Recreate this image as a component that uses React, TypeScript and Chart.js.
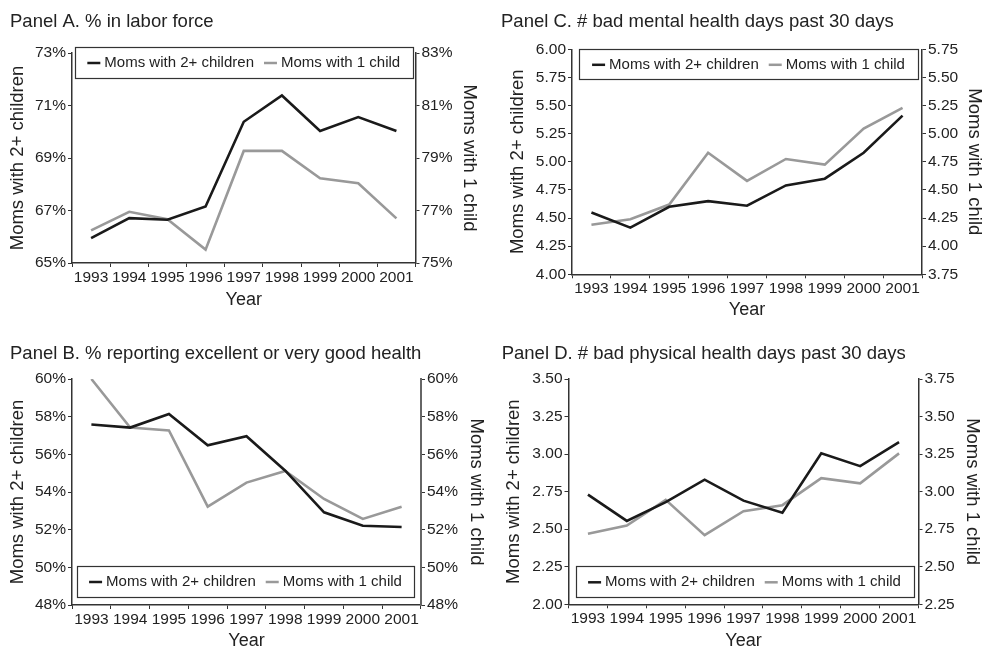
import React, { useEffect, useRef } from "react";
import { Chart, registerables } from "chart.js";

Chart.register(...registerables);

const FONT = '"Liberation Sans", Arial, Helvetica, sans-serif';

const years = ["1993", "1994", "1995", "1996", "1997", "1998", "1999", "2000", "2001"];
const seriesNames = ["Moms with 2+ children", "Moms with 1 child"];

// Panel A: % in labor force
const laborTwoPlus = [65.95, 66.71, 66.65, 67.15, 70.38, 71.38, 70.03, 70.56, 70.03];
const laborOne = [76.24, 76.95, 76.67, 75.51, 79.27, 79.27, 78.23, 78.04, 76.7];
const laborLeftRange = [65, 73];
const laborRightRange = [75, 83];

// Panel B: % reporting excellent or very good health
const healthTwoPlus = [57.58, 57.42, 58.14, 56.48, 56.96, 55.13, 52.92, 52.21, 52.14];
const healthOne = [60.0, 57.42, 57.27, 53.22, 54.5, 55.12, 53.63, 52.57, 53.22];
const healthLeftRange = [48, 60];
const healthRightRange = [48, 60];

// Panel C: # bad mental health days past 30 days
const mentalTwoPlus = [4.55, 4.415, 4.6, 4.65, 4.61, 4.79, 4.85, 5.08, 5.41];
const mentalOne = [4.19, 4.24, 4.37, 4.83, 4.58, 4.775, 4.725, 5.045, 5.23];
const mentalLeftRange = [4.0, 6.0];
const mentalRightRange = [3.75, 5.75];

// Panel D: # bad physical health days past 30 days
const physicalTwoPlus = [2.73, 2.555, 2.68, 2.83, 2.69, 2.61, 3.005, 2.92, 3.08];
const physicalOne = [2.72, 2.774, 2.945, 2.71, 2.87, 2.91, 3.09, 3.055, 3.255];
const physicalLeftRange = [2.0, 3.5];
const physicalRightRange = [2.25, 3.75];

const pctFmt = (v: number) => Math.round(v) + "%";
const numFmt = (v: number) => v.toFixed(2);

type Panel = {
  title: string;
  two: number[];
  one: number[];
  left: number[];
  right: number[];
  step: number;
  fmt: (v: number) => string;
  canvas: { x: number; y: number; w: number; h: number };
  area: { l: number; t: number; r: number; b: number };
  titlePos: { x: number; base: number };
  yPadL: number;
  yPadR: number;
  xPad: number;
  rightAxis: { color: string; width: number };
  legend: { dl: number; dr: number; dy: number; h: number; fromBottom: boolean };
};

const panels: Panel[] = [
  {
    title: "Panel A. % in labor force",
    two: laborTwoPlus, one: laborOne, left: laborLeftRange, right: laborRightRange, step: 2, fmt: pctFmt,
    canvas: { x: 0, y: 0, w: 492, h: 320 },
    area: { l: 72, t: 53, r: 415.5, b: 263 },
    titlePos: { x: 10, base: 26.7 },
    yPadL: 6.9, yPadR: 11.9, xPad: 8.7,
    rightAxis: { color: "#333333", width: 1.5 },
    legend: { dl: 3, dr: 3, dy: -6, h: 31, fromBottom: false },
  },
  {
    title: "Panel C. # bad mental health days past 30 days",
    two: mentalTwoPlus, one: mentalOne, left: mentalLeftRange, right: mentalRightRange, step: 0.25, fmt: numFmt,
    canvas: { x: 492, y: 0, w: 493, h: 330 },
    area: { l: 572, t: 49.3, r: 922, b: 274.3 },
    titlePos: { x: 501, base: 26.7 },
    yPadL: 14.9, yPadR: 0, xPad: 8.7,
    rightAxis: { color: "#333333", width: 1.5 },
    legend: { dl: 7, dr: 4, dy: 0, h: 30, fromBottom: false },
  },
  {
    title: "Panel B. % reporting excellent or very good health",
    two: healthTwoPlus, one: healthOne, left: healthLeftRange, right: healthRightRange, step: 2, fmt: pctFmt,
    canvas: { x: 0, y: 316, w: 492, h: 345 },
    area: { l: 72, t: 379, r: 421, b: 605 },
    titlePos: { x: 10, base: 359.3 },
    yPadL: 7.2, yPadR: 4.9, xPad: 8.7,
    rightAxis: { color: "#666666", width: 2 },
    legend: { dl: 5, dr: 7, dy: -39, h: 31, fromBottom: true },
  },
  {
    title: "Panel D. # bad physical health days past 30 days",
    two: physicalTwoPlus, one: physicalOne, left: physicalLeftRange, right: physicalRightRange, step: 0.25, fmt: numFmt,
    canvas: { x: 492, y: 316, w: 493, h: 345 },
    area: { l: 568.5, t: 379, r: 918.5, b: 604.3 },
    titlePos: { x: 501.7, base: 359.3 },
    yPadL: 10.9, yPadR: 1.9, xPad: 8.7,
    rightAxis: { color: "#333333", width: 1.5 },
    legend: { dl: 7, dr: 5, dy: -38, h: 31, fromBottom: true },
  },
];

const BLACK = "#1a1a1a";
const GRAY = "#999999";
const AXIS = "#333333";
const TEXT = "#222222";

function PanelChart({ p }: { p: Panel }) {
  const ref = useRef<HTMLCanvasElement | null>(null);

  useEffect(() => {
    if (!ref.current) return;
    const { canvas: c, area } = p;

    const decor = {
      id: "panelDecor",
      afterDraw(chart: any) {
        const { ctx, chartArea } = chart;
        ctx.save();
        // Panel title
        ctx.font = `18.5px ${FONT}`;
        ctx.fillStyle = TEXT;
        ctx.textAlign = "left";
        ctx.textBaseline = "alphabetic";
        ctx.fillText(p.title, p.titlePos.x - c.x, p.titlePos.base - c.y);

        // Legend box
        const bx = chartArea.left + p.legend.dl;
        const bw = chartArea.right - p.legend.dr - bx;
        const by = (p.legend.fromBottom ? chartArea.bottom : chartArea.top) + p.legend.dy;
        const bh = p.legend.h;
        ctx.fillStyle = "#ffffff";
        ctx.fillRect(bx, by, bw, bh);
        ctx.strokeStyle = AXIS;
        ctx.lineWidth = 1.2;
        ctx.strokeRect(Math.round(bx) + 0.5, Math.round(by) + 0.5, Math.round(bw), Math.round(bh));

        ctx.font = `15px ${FONT}`;
        const sample = 13;
        const gap = 4;
        const between = 10;
        const colors = [BLACK, GRAY];
        const widths = seriesNames.map((n) => ctx.measureText(n).width);
        const total = widths.reduce((s, w) => s + sample + gap + w, 0) + between;
        let x = bx + (bw - total) / 2;
        const cy = by + bh / 2 + 0.5;
        seriesNames.forEach((name, i) => {
          ctx.strokeStyle = colors[i];
          ctx.lineWidth = 2.5;
          ctx.beginPath();
          ctx.moveTo(x, cy);
          ctx.lineTo(x + sample, cy);
          ctx.stroke();
          ctx.fillStyle = TEXT;
          ctx.textBaseline = "middle";
          ctx.fillText(name, x + sample + gap, cy);
          x += sample + gap + widths[i] + between;
        });
        ctx.restore();
      },
    };

    const tickFont = { family: FONT, size: 15.5 };
    const titleFont = { family: FONT, size: 18 };
    const yTitleFont = { family: FONT, size: 18.5 };

    const yScale = (
      min: number,
      max: number,
      position: "left" | "right",
      pad: number,
      text: string,
      width: number,
      borderColor: string,
      borderWidth: number
    ) => ({
      type: "linear" as const,
      position,
      min,
      max,
      border: { display: true, color: borderColor, width: borderWidth },
      grid: { display: true, drawOnChartArea: false, drawTicks: true, tickLength: 4, color: AXIS, lineWidth: 1 },
      ticks: {
        stepSize: p.step,
        padding: 2,
        color: TEXT,
        font: tickFont,
        callback: (v: any) => p.fmt(Number(v)),
      },
      title: { display: true, text, color: TEXT, font: yTitleFont, padding: { top: pad, bottom: 0 } },
      afterFit: (s: any) => {
        s.width = width;
      },
    });

    const chart = new Chart(ref.current, {
      type: "line",
      data: {
        labels: years,
        datasets: [
          {
            label: seriesNames[0],
            data: p.two,
            borderColor: BLACK,
            backgroundColor: BLACK,
            borderWidth: 2.6,
            pointRadius: 0,
            tension: 0,
            yAxisID: "y",
          },
          {
            label: seriesNames[1],
            data: p.one,
            borderColor: GRAY,
            backgroundColor: GRAY,
            borderWidth: 2.6,
            pointRadius: 0,
            tension: 0,
            yAxisID: "y1",
          },
        ],
      },
      options: {
        responsive: false,
        animation: false,
        devicePixelRatio: 1,
        layout: { padding: { top: area.t - c.y, left: 0, right: 0, bottom: 0 } },
        plugins: {
          legend: { display: false },
          title: { display: false },
          tooltip: { enabled: false },
        },
        scales: {
          x: {
            type: "category",
            offset: true,
            border: { display: true, color: AXIS, width: 1.5 },
            grid: { display: true, offset: true, drawOnChartArea: false, drawTicks: true, tickLength: 4, color: AXIS, lineWidth: 1 },
            ticks: { padding: 1, color: TEXT, font: tickFont, maxRotation: 0, autoSkip: false },
            title: { display: true, text: "Year", color: TEXT, font: titleFont, padding: { top: 0, bottom: p.xPad } },
            afterFit: (s: any) => {
              s.height = c.y + c.h - area.b;
            },
          },
          y: yScale(p.left[0], p.left[1], "left", p.yPadL, seriesNames[0], area.l - c.x, AXIS, 1.5),
          y1: yScale(
            p.right[0],
            p.right[1],
            "right",
            p.yPadR,
            seriesNames[1],
            c.x + c.w - area.r,
            p.rightAxis.color,
            p.rightAxis.width
          ),
        },
      } as any,
      plugins: [decor],
    });
    return () => chart.destroy();
  }, [p]);

  return (
    <canvas
      ref={ref}
      width={p.canvas.w}
      height={p.canvas.h}
      style={{ position: "absolute", left: p.canvas.x, top: p.canvas.y, width: p.canvas.w, height: p.canvas.h }}
    />
  );
}

export default function App() {
  return (
    <div
      style={{
        position: "absolute",
        left: 0,
        top: 0,
        width: 985,
        height: 649,
        overflow: "hidden",
        background: "#ffffff",
      }}
    >
      {panels.map((p) => (
        <PanelChart key={p.title} p={p} />
      ))}
    </div>
  );
}
